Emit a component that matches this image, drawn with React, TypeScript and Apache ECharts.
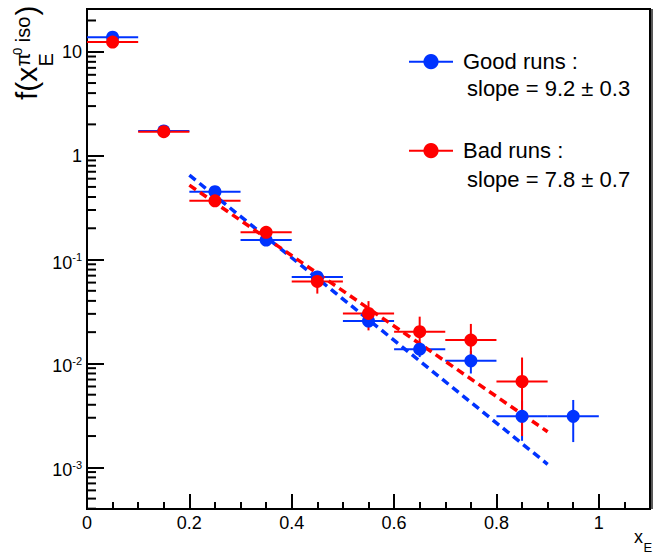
import React, { useEffect, useRef } from 'react';
import * as echarts from 'echarts';

const FONT = '"Liberation Sans", Arial, Helvetica, sans-serif';
const BLUE = '#0033ff';
const RED = '#ff0000';

// x range and y (log) range
const X_MIN = 0;
const X_MAX = 1.1;
const Y_MIN = 3.97e-4;
const Y_MAX = 25.8;

// bins: centers and half-width
const goodX = [0.05, 0.15, 0.25, 0.35, 0.45, 0.55, 0.65, 0.75, 0.85, 0.95];
const goodY = [13.8, 1.73, 0.45, 0.154, 0.068, 0.0256, 0.0137, 0.0106, 0.0031, 0.0031];
const goodErr = [0.15, 0.03, 0.012, 0.006, 0.004, 0.0018, 0.0022, 0.0026, 0.0013, 0.00135];

const badX = [0.05, 0.15, 0.25, 0.35, 0.45, 0.55, 0.65, 0.75, 0.85];
const badY = [12.4, 1.7, 0.368, 0.183, 0.0615, 0.0303, 0.0202, 0.0168, 0.0067];
const badErr = [0.3, 0.05, 0.02, 0.015, 0.0145, 0.0095, 0.008, 0.0072, 0.0047];

const binHalfWidth = 0.05;

// exponential fits (straight on log scale): endpoints
const goodFit = [
  [0.2, 0.65],
  [0.9, 0.00107],
];
const badFit = [
  [0.2, 0.52],
  [0.9, 0.0022],
];

const legendNames = ['Good runs :', 'Bad runs :'];
const slopeTexts = ['slope = 9.2 \u00b1 0.3', 'slope = 7.8 \u00b1 0.7'];

// minor ticks of the log axis (2..9 x 10^k)
const yMinorTicks: number[] = [];
for (let k = -4; k <= 1; k++) {
  for (let m = 2; m <= 9; m++) {
    const v = m * Math.pow(10, k);
    if (v > Y_MIN && v < Y_MAX) yMinorTicks.push(v);
  }
}

function errorSeries(name: string, xs: number[], ys: number[], errs: number[], color: string) {
  return {
    type: 'custom',
    name,
    silent: true,
    clip: false,
    dimensions: ['x', 'y', 'ex', 'ey'],
    encode: { x: 0, y: 1 },
    data: xs.map((x, i) => [x, ys[i], binHalfWidth, errs[i]]),
    renderItem: (_p: any, api: any) => {
      const x = api.value(0);
      const y = api.value(1);
      const dx = api.value(2);
      const dy = api.value(3);
      const l = api.coord([x - dx, y]);
      const r = api.coord([x + dx, y]);
      const t = api.coord([x, y + dy]);
      const b = api.coord([x, Math.max(y - dy, Y_MIN)]);
      return {
        type: 'group',
        children: [
          { type: 'line', shape: { x1: l[0], y1: l[1], x2: r[0], y2: r[1] }, style: { stroke: color, lineWidth: 2 } },
          { type: 'line', shape: { x1: t[0], y1: t[1], x2: b[0], y2: b[1] }, style: { stroke: color, lineWidth: 2 } },
        ],
      };
    },
  };
}

function pointSeries(name: string, xs: number[], ys: number[], color: string) {
  return {
    type: 'line',
    name,
    silent: true,
    data: xs.map((x, i) => [x, ys[i]]),
    symbol: 'circle',
    symbolSize: 13,
    showSymbol: true,
    lineStyle: { width: 0, color },
    itemStyle: { color, borderWidth: 0 },
    emphasis: { disabled: true },
  };
}

function fitSeries(name: string, pts: number[][], color: string) {
  return {
    type: 'line',
    name,
    silent: true,
    data: pts,
    symbol: 'none',
    lineStyle: { width: 3.5, color, type: [8, 5] },
    emphasis: { disabled: true },
  };
}

const supLabel = (v: number) => {
  const lg = Math.log10(v);
  const k = Math.round(lg);
  if (Math.abs(lg - k) > 1e-6) return '';
  if (k === 0) return '1';
  if (k === 1) return '10';
  return '{b|10}{s|' + k + '}';
};

const T = (text: string, x: number, y: number, fontSize: number) => ({
  type: 'text',
  x,
  y,
  style: { text, fontSize, fontFamily: FONT, fill: '#000', verticalAlign: 'middle', align: 'left' },
});

const option: any = {
  animation: false,
  grid: { left: 87, right: 0, top: 9, bottom: 45, show: true, borderColor: '#000', borderWidth: 2, backgroundColor: 'transparent' },
  legend: {
    data: legendNames.map((n) => ({ name: n })),
    orient: 'vertical',
    left: 408,
    top: 50.7,
    padding: 0,
    itemGap: 67,
    itemWidth: 44,
    itemHeight: 19,
    selectedMode: false,
    lineStyle: { width: 2 },
    textStyle: { fontSize: 22, fontFamily: FONT, color: '#000', lineHeight: 22, padding: [0, 0, 0, 5] },
  },
  xAxis: [
    {
      type: 'value',
      min: X_MIN,
      max: X_MAX,
      interval: 0.05,
      position: 'bottom',
      axisLine: { show: true, onZero: false, lineStyle: { color: '#000', width: 2 } },
      axisTick: { show: true, inside: true, length: 7, lineStyle: { color: '#000', width: 2 } },
      axisLabel: { show: false },
      splitLine: { show: false },
    },
    {
      type: 'value',
      min: X_MIN,
      max: X_MAX,
      interval: 0.2,
      position: 'bottom',
      axisLine: { show: false, onZero: false },
      axisTick: { show: true, inside: true, length: 15, lineStyle: { color: '#000', width: 2 } },
      axisLabel: {
        show: true,
        margin: 5,
        fontSize: 18,
        fontFamily: FONT,
        color: '#000',
        formatter: (v: number) => (Math.abs(v / 0.2 - Math.round(v / 0.2)) < 1e-6 ? String(+v.toFixed(1)) : ''),
      },
      splitLine: { show: false },
    },
  ],
  yAxis: {
    type: 'log',
    logBase: 10,
    min: Y_MIN,
    max: Y_MAX,
    axisLine: { show: true, onZero: false, lineStyle: { color: '#000', width: 2 } },
    axisTick: { show: true, inside: true, length: 17, lineStyle: { color: '#000', width: 2 } },
    minorTick: { show: false },
    splitLine: { show: false },
    axisLabel: {
      margin: 5,
      fontSize: 18,
      fontFamily: FONT,
      color: '#000',
      formatter: supLabel,
      rich: {
        b: { fontSize: 18, fontFamily: FONT, color: '#000', lineHeight: 18, verticalAlign: 'bottom' },
        s: { fontSize: 11, fontFamily: FONT, color: '#000', lineHeight: 24, verticalAlign: 'top', padding: [4, 0, 0, 0] },
      },
    },
  },
  graphic: [
    {
      type: 'group',
      x: 37,
      y: 100,
      rotation: Math.PI / 2,
      children: [
        T('f(x', 0, -10.4, 30),
        T('E', 33.5, 9.1, 20),
        T('\u03c0', 33.5, -13.9, 20),
        T('0', 45, -19.5, 13),
        T('iso', 57.8, -13.9, 20),
        T(')', 84.5, -10.4, 30),
      ],
    },
    T('x', 634, 536.7, 18),
    T('E', 643.5, 547.5, 13),
    T(slopeTexts[0], 467, 88, 22),
    T(slopeTexts[1], 467, 179.5, 22),
    { type: 'line', shape: { x1: 652, y1: 9, x2: 652, y2: 509 }, style: { stroke: '#222', lineWidth: 1.5 } },
  ],
  series: [
    {
      type: 'custom',
      name: 'y-minor-ticks',
      silent: true,
      clip: false,
      encode: { x: 0, y: 1 },
      data: [[0, 1]],
      renderItem: (_p: any, api: any) => ({
        type: 'group',
        children: yMinorTicks.map((v) => {
          const p = api.coord([0, v]);
          return { type: 'line', shape: { x1: p[0], y1: p[1], x2: p[0] + 9, y2: p[1] }, style: { stroke: '#000', lineWidth: 2 } };
        }),
      }),
    },
    errorSeries('good-err', goodX, goodY, goodErr, BLUE),
    pointSeries(legendNames[0], goodX, goodY, BLUE),
    errorSeries('bad-err', badX, badY, badErr, RED),
    pointSeries(legendNames[1], badX, badY, RED),
    fitSeries('good-fit', goodFit, BLUE),
    fitSeries('bad-fit', badFit, RED),
  ],
};

export default function App() {
  const ref = useRef<HTMLDivElement>(null);
  useEffect(() => {
    document.body.style.margin = '0';
    const chart = echarts.init(ref.current!, null, { renderer: 'svg' });
    chart.setOption(option);
    return () => chart.dispose();
  }, []);
  return <div ref={ref} style={{ width: 653, height: 554 }} />;
}
